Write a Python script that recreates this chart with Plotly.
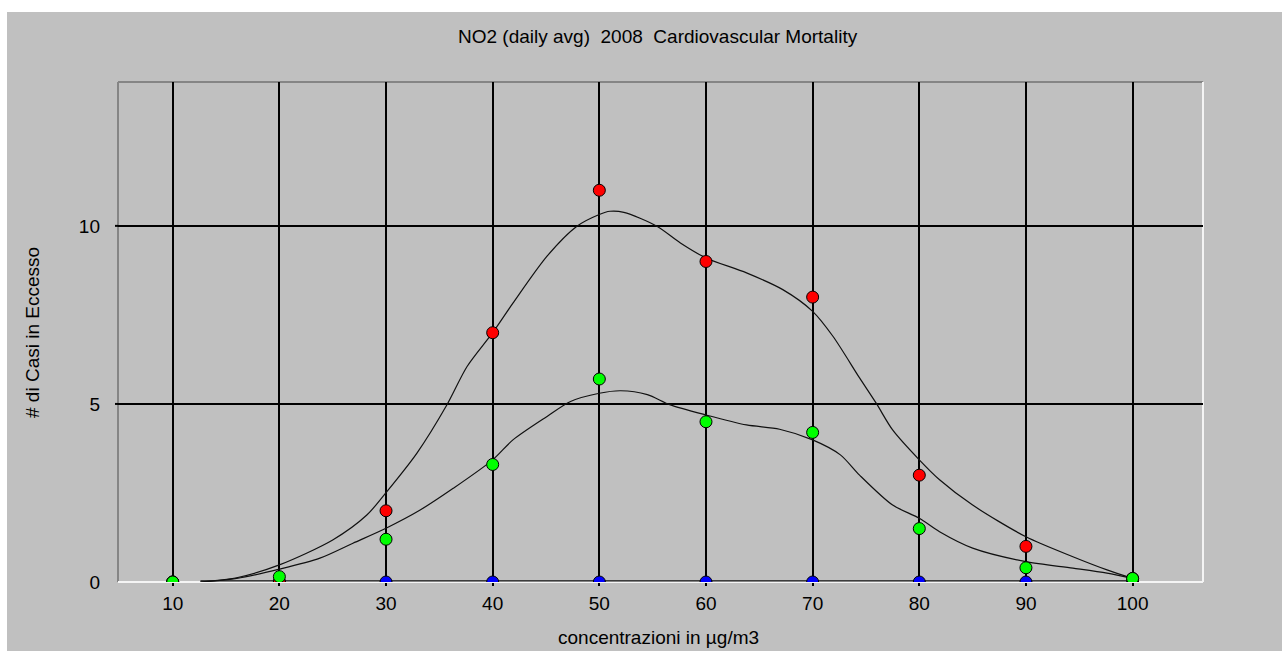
import plotly.graph_objects as go

# Concentration classes (µg/m3)
concentrations = [10, 20, 30, 40, 50, 60, 70, 80, 90, 100]

# Excess cases per class
cases_red = [0, 0, 2, 7, 11, 9, 8, 3, 1, 0.1]
cases_green = [0, 0.15, 1.2, 3.3, 5.7, 4.5, 4.2, 1.5, 0.4, 0.1]
cases_blue = [0, 0, 0, 0, 0, 0, 0, 0, 0, 0]

# Smoothed trend curves
smooth_red_x = [12.6, 16, 20, 25, 28.2, 30, 32.9, 35.7, 37.6, 40, 41.9, 45.1, 47.9, 50,
                51.0, 52.3, 55.4, 57.6, 60, 63.8, 67.2, 70, 71.9, 74.4, 76.0, 77.5, 80,
                81.9, 85, 90, 94.4, 97.6, 100]
smooth_red_y = [0.0, 0.12, 0.48, 1.18, 1.88, 2.51, 3.62, 4.97, 6.05, 7.0, 7.83, 9.15, 9.99, 10.32,
                10.41, 10.38, 9.99, 9.52, 9.10, 8.68, 8.21, 7.60, 6.90, 5.73, 5.0, 4.27, 3.43,
                2.87, 2.16, 1.27, 0.71, 0.34, 0.1]
smooth_green_x = [12.6, 16, 20, 23.8, 26.9, 30, 33.2, 36.3, 40, 41.9, 45.1, 47.3, 50, 52,
                  54.5, 56.6, 60, 63.8, 66.9, 70, 72.6, 74.4, 77.5, 80, 81.9, 85, 90, 94.4,
                  97.6, 100]
smooth_green_y = [0.0, 0.1, 0.36, 0.67, 1.09, 1.51, 2.02, 2.63, 3.43, 3.99, 4.65, 5.07, 5.30, 5.37,
                  5.26, 4.98, 4.69, 4.41, 4.29, 3.99, 3.57, 3.0, 2.16, 1.79, 1.41, 0.95, 0.57, 0.39,
                  0.25, 0.1]
smooth_blue_x = [12.6, 100]
smooth_blue_y = [0.03, 0.03]

x_ticks = [10, 20, 30, 40, 50, 60, 70, 80, 90, 100]
y_ticks = [0, 5, 10]

FONT = "Liberation Sans, Arial, sans-serif"
BG = "#c0c0c0"

fig = go.Figure()

for xs, ys in [(smooth_red_x, smooth_red_y), (smooth_green_x, smooth_green_y),
               (smooth_blue_x, smooth_blue_y)]:
    fig.add_trace(go.Scatter(x=xs, y=ys, mode="lines",
                             line=dict(color="#101010", width=1.2, shape="spline", smoothing=0.8),
                             hoverinfo="skip", showlegend=False))

for vals, col in [(cases_blue, "#0000ff"), (cases_red, "#ff0000"), (cases_green, "#00ff00")]:
    fig.add_trace(go.Scatter(x=concentrations, y=vals, mode="markers",
                             marker=dict(size=12, color=col, line=dict(color="#000000", width=1)),
                             cliponaxis=True, showlegend=False))

shapes = [
    # grey panel behind the chart
    dict(type="rect", xref="paper", yref="paper", x0=(7 - 118) / 1085, x1=1.2,
         y0=-0.3, y1=(582 - 12) / 500, fillcolor=BG, line=dict(width=0), layer="below"),
    # sunken frame: dark top/left, light bottom/right
    dict(type="line", xref="paper", yref="paper", x0=0, x1=0, y0=0, y1=1,
         line=dict(color="#858585", width=2), layer="below"),
    dict(type="line", xref="paper", yref="paper", x0=0, x1=1, y0=1, y1=1,
         line=dict(color="#858585", width=2), layer="below"),
    dict(type="line", xref="paper", yref="paper", x0=1, x1=1, y0=0, y1=1,
         line=dict(color="#f4f4f4", width=2), layer="below"),
]
# small tick stubs to the left of the horizontal grid lines
for v in y_ticks[1:]:
    shapes.append(dict(type="line", xref="paper", yref="y", x0=-3 / 1085, x1=0, y0=v, y1=v,
                       line=dict(color="#000000", width=2)))

annotations = [
    dict(text="NO2 (daily avg)  2008  Cardiovascular Mortality", xref="paper", yref="paper",
         x=(658 - 118) / 1085, y=(582 - 37) / 500, xanchor="center", yanchor="middle",
         showarrow=False, font=dict(family=FONT, size=19, color="#000000")),
    dict(text="concentrazioni in µg/m3", xref="paper", yref="paper",
         x=(658 - 118) / 1085, y=(582 - 637) / 500, xanchor="center", yanchor="middle",
         showarrow=False, font=dict(family=FONT, size=19, color="#000000")),
    dict(text="# di Casi in Eccesso", xref="paper", yref="paper", textangle=-90,
         x=(32 - 118) / 1085, y=(582 - 333) / 500, xanchor="center", yanchor="middle",
         showarrow=False, font=dict(family=FONT, size=19, color="#000000")),
]

fig.update_layout(
    width=1282, height=651,
    margin=dict(l=118, r=79, t=82, b=69, pad=0),
    paper_bgcolor="#ffffff", plot_bgcolor=BG,
    font=dict(family=FONT, size=19, color="#000000"),
    shapes=shapes, annotations=annotations,
    xaxis=dict(range=[4.87, 106.6], tickvals=x_ticks, ticktext=[str(v) for v in x_ticks],
               showgrid=True, gridcolor="#000000", gridwidth=2, zeroline=False,
               ticks="outside", ticklen=3, tickwidth=2, tickcolor="#000000",
               ticklabelstandoff=1, showline=False, fixedrange=True),
    yaxis=dict(range=[0, 14.04], tickvals=y_ticks, ticktext=[str(v) for v in y_ticks],
               showgrid=True, gridcolor="#000000", gridwidth=2,
               zeroline=True, zerolinecolor="#f4f4f4", zerolinewidth=2,
               ticks="", ticklabelstandoff=17, showline=False, fixedrange=True),
)

fig.write_html("out.html")
